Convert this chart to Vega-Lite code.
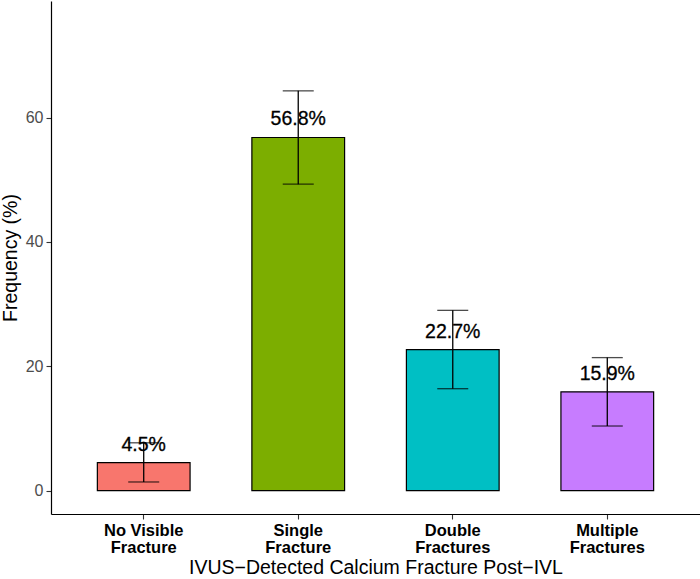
{
  "$schema": "https://vega.github.io/schema/vega-lite/v6.json",
  "width": 649,
  "height": 513,
  "autosize": {"type": "none"},
  "padding": {"left": 51, "top": 1, "right": 0, "bottom": 65},
  "background": "white",
  "config": {
    "view": {"stroke": null},
    "font": "Liberation Sans",
    "axis": {
      "domainColor": "black",
      "domainWidth": 1.2,
      "tickColor": "#333333",
      "tickWidth": 1.1,
      "tickSize": 5,
      "grid": false,
      "titleFont": "Liberation Sans",
      "titleFontWeight": "normal",
      "titleColor": "black",
      "titleFontSize": 19.5,
      "labelFont": "Liberation Sans"
    }
  },
  "data": {
    "values": [
      {"category": "No Visible Fracture", "pct": 4.5, "lo": 1.4, "hi": 7.7, "label": "4.5%"},
      {"category": "Single Fracture", "pct": 56.8, "lo": 49.3, "hi": 64.3, "label": "56.8%"},
      {"category": "Double Fractures", "pct": 22.7, "lo": 16.4, "hi": 29.0, "label": "22.7%"},
      {"category": "Multiple Fractures", "pct": 15.9, "lo": 10.4, "hi": 21.4, "label": "15.9%"}
    ]
  },
  "encoding": {
    "x": {
      "field": "category",
      "type": "nominal",
      "sort": null,
      "scale": {"paddingInner": 0.4, "paddingOuter": 0.3},
      "axis": {
        "title": "IVUS\u2212Detected Calcium Fracture Post\u2212IVL",
        "titlePadding": 3,
        "labelAngle": 0,
        "labelFontWeight": "bold",
        "labelFontSize": 16.5,
        "labelColor": "black",
        "labelLineHeight": 17,
        "labelPadding": 3,
        "labelExpr": "datum.label == 'No Visible Fracture' ? ['No Visible', 'Fracture'] : split(datum.label, ' ')"
      }
    }
  },
  "layer": [
    {
      "mark": {"type": "bar", "stroke": "black", "strokeWidth": 1.2},
      "encoding": {
        "y": {
          "field": "pct",
          "type": "quantitative",
          "scale": {"domain": [-3.75, 78.75], "nice": false, "zero": false},
          "axis": {
            "title": "Frequency (%)",
            "values": [0, 20, 40, 60],
            "labelFontSize": 16,
            "labelColor": "#4D4D4D",
            "labelPadding": 3,
            "titlePadding": 5
          }
        },
        "color": {
          "field": "category",
          "type": "nominal",
          "sort": null,
          "scale": {
            "domain": ["No Visible Fracture", "Single Fracture", "Double Fractures", "Multiple Fractures"],
            "range": ["#F8766D", "#7CAE00", "#00BFC4", "#C77CFF"]
          },
          "legend": null
        }
      }
    },
    {
      "mark": {"type": "text", "fontSize": 19.5, "baseline": "middle", "dy": -18, "color": "black", "stroke": "black", "strokeWidth": 0.3},
      "encoding": {
        "y": {"field": "pct", "type": "quantitative"},
        "text": {"field": "label"}
      }
    },
    {
      "mark": {"type": "rule", "color": "black", "strokeWidth": 1.3},
      "encoding": {
        "y": {"field": "lo", "type": "quantitative"},
        "y2": {"field": "hi"}
      }
    },
    {
      "mark": {"type": "tick", "color": "black", "size": 31, "thickness": 1.3},
      "encoding": {
        "y": {"field": "lo", "type": "quantitative"}
      }
    },
    {
      "mark": {"type": "tick", "color": "black", "size": 31, "thickness": 1.3},
      "encoding": {
        "y": {"field": "hi", "type": "quantitative"}
      }
    }
  ]
}
